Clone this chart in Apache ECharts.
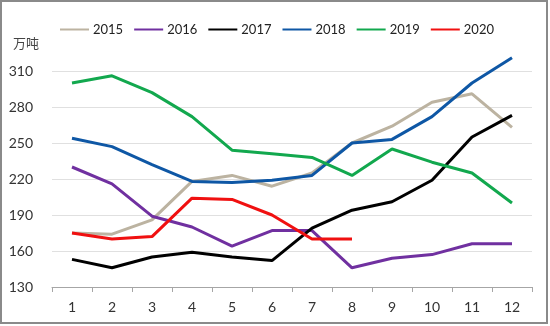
<!DOCTYPE html>
<html><head><meta charset="utf-8">
<script src="https://cdn.jsdelivr.net/npm/echarts@6/dist/echarts.min.js"></script>
<style>html,body{margin:0;padding:0;background:#fff}#c{width:550px;height:326px}</style>
</head><body><div id="c"></div>
<script>
const months = ['1','2','3','4','5','6','7','8','9','10','11','12'];
const years = ['2015','2016','2017','2018','2019','2020'];
const colors = ['#BCB3A1','#7030A0','#000000','#0E57A5','#12A84E','#F01010'];
const s2015 = [175, 174, 186, 218, 223, 214, 225, 250, 264, 284, 291, 263];
const s2016 = [230, 216, 189, 180, 164, 177, 177, 146, 154, 157, 166, 166];
const s2017 = [153, 146, 155, 159, 155, 152, 179, 194, 201, 219, 255, 273];
const s2018 = [254, 247, 232, 218, 217, 219, 223, 250, 253, 272, 300, 321];
const s2019 = [300, 306, 292, 272, 244, 241, 238, 223, 245, 234, 225, 200];
const s2020 = [175, 170, 172, 204, 203, 190, 170, 170];
const yTicks = {min:130, max:310, interval:30};
const unitLabel = '万吨';
const data = [s2015, s2016, s2017, s2018, s2019, s2020];
const font = 'Lato, "Noto Sans CJK SC", sans-serif';
const chart = echarts.init(document.getElementById('c'), null, {renderer:'canvas'});
chart.setOption({
  animation:false,
  textStyle:{fontFamily:font},
  graphic:[
    {type:'rect',shape:{x:1,y:1,width:546,height:322},style:{fill:'none',stroke:'#8a8a8a',lineWidth:2},silent:true},
    {type:'text',left:13,top:37,style:{text:unitLabel,fontSize:13,fill:'#444',fontFamily:'"Noto Sans CJK SC", sans-serif'},silent:true}
  ],
  legend:{
    top:18, left:55, itemWidth:29, itemHeight:14, itemGap:11,
    icon:'path://M0,6 L29,6 L29,8 L0,8 Z',
    textStyle:{fontSize:13,color:'#222',fontFamily:font,padding:[0,0,0,-1]},
    data:years
  },
  grid:{left:52,right:18,top:71,bottom:39,containLabel:false},
  xAxis:{
    type:'category', data:months, boundaryGap:true,
    axisLine:{lineStyle:{color:'#A6A6A6',width:1}},
    axisTick:{show:true,length:5,lineStyle:{color:'#A6A6A6'}},
    axisLabel:{fontSize:14,color:'#333',margin:13,fontFamily:font}
  },
  yAxis:{
    type:'value', min:yTicks.min, max:yTicks.max, interval:yTicks.interval,
    axisLine:{show:false}, axisTick:{show:false},
    axisLabel:{fontSize:14,color:'#333',margin:19,fontFamily:font},
    splitLine:{lineStyle:{color:'#E0E0E0',width:1}}
  },
  series: years.map((y,i)=>({
    name:y, type:'line', data:data[i], symbol:'none', clip:false,
    lineStyle:{color:colors[i],width:3}, itemStyle:{color:colors[i]}
  }))
});
</script></body></html>
